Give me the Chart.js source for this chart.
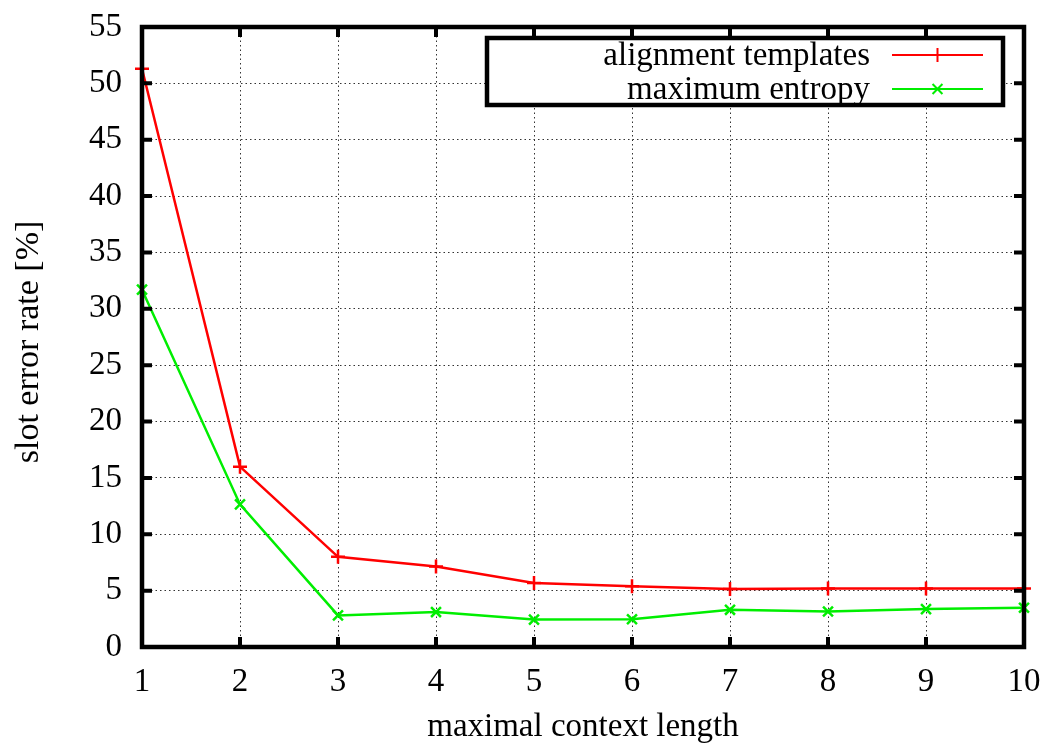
<!DOCTYPE html>
<html>
<head>
<meta charset="utf-8">
<script src="https://cdn.jsdelivr.net/npm/chart.js@4/dist/chart.umd.min.js"></script>
<style>
  html, body { margin: 0; padding: 0; background: #ffffff; }
  #wrap { width: 1046px; height: 747px; position: relative; }
</style>
</head>
<body>
<div id="wrap"><canvas id="c" width="1046" height="747"></canvas></div>
<script>
// ---- data ----
const contextLengths = [1, 2, 3, 4, 5, 6, 7, 8, 9, 10];
const alignmentTemplates = [51.3, 16.0, 8.0, 7.15, 5.68, 5.38, 5.15, 5.2, 5.2, 5.2];
const maximumEntropy = [31.7, 12.65, 2.8, 3.1, 2.43, 2.46, 3.3, 3.15, 3.36, 3.48];
const seriesLabels = ['alignment templates', 'maximum entropy'];
const yTicks = [0, 5, 10, 15, 20, 25, 30, 35, 40, 45, 50, 55];
const xTitle = 'maximal context length';
const yTitle = 'slot error rate [%]';

const FONT = '"Liberation Serif", "DejaVu Serif", serif';

function toPoints(xs, ys) { return xs.map((x, i) => ({ x: x, y: ys[i] })); }

const framePlugin = {
  id: 'frame',
  afterDatasetsDraw(chart) {
    const ctx = chart.ctx;
    const a = chart.chartArea;
    const xs = chart.scales.x, ys = chart.scales.y;
    ctx.save();
    ctx.strokeStyle = '#000';
    // inward ticks
    ctx.lineWidth = 4;
    ctx.lineCap = 'butt';
    const tl = 10;
    ys.ticks.forEach(t => {
      const py = ys.getPixelForValue(t.value);
      ctx.beginPath();
      ctx.moveTo(a.left, py); ctx.lineTo(a.left + tl, py);
      ctx.moveTo(a.right, py); ctx.lineTo(a.right - tl, py);
      ctx.stroke();
    });
    xs.ticks.forEach(t => {
      const px = xs.getPixelForValue(t.value);
      ctx.beginPath();
      ctx.moveTo(px, a.bottom); ctx.lineTo(px, a.bottom - tl);
      ctx.moveTo(px, a.top); ctx.lineTo(px, a.top + tl);
      ctx.stroke();
    });
    // border
    ctx.lineWidth = 4.5;
    ctx.strokeRect(a.left, a.top, a.right - a.left, a.bottom - a.top);

    // legend
    const bx = 487, by = 38, bw = 516, bh = 67;
    ctx.fillStyle = '#fff';
    ctx.fillRect(bx, by, bw, bh);
    ctx.lineWidth = 4.5;
    ctx.strokeRect(bx, by, bw, bh);
    ctx.font = '33px ' + FONT;
    ctx.textAlign = 'right';
    ctx.textBaseline = 'alphabetic';
    const rows = [55, 89];
    chart.data.datasets.forEach((ds, i) => {
      const ly = rows[i];
      ctx.fillStyle = '#000';
      ctx.fillText(ds.label, 870, ly + 10);
      ctx.strokeStyle = ds.borderColor;
      ctx.lineWidth = 2;
      ctx.beginPath();
      ctx.moveTo(892, ly); ctx.lineTo(983, ly);
      ctx.stroke();
      Chart.helpers.drawPoint(ctx, {
        pointStyle: ds.pointStyle, radius: ds.pointRadius, borderWidth: 2, rotation: 0
      }, 937.5, ly);
    });

    // y title
    ctx.fillStyle = '#000';
    ctx.font = '34px ' + FONT;
    ctx.translate(29, 342);
    ctx.rotate(-Math.PI / 2);
    ctx.textAlign = 'center';
    ctx.textBaseline = 'middle';
    ctx.fillText(yTitle, 0, 0);
    ctx.restore();
  }
};

new Chart(document.getElementById('c'), {
  type: 'line',
  data: {
    datasets: [
      {
        label: seriesLabels[0],
        data: toPoints(contextLengths, alignmentTemplates),
        borderColor: '#ff0000',
        backgroundColor: '#ff0000',
        borderWidth: 2.5,
        pointStyle: 'cross',
        pointRadius: 7,
        pointBorderWidth: 2.5,
        pointHoverRadius: 7,
        tension: 0,
        fill: false,
        clip: false
      },
      {
        label: seriesLabels[1],
        data: toPoints(contextLengths, maximumEntropy),
        borderColor: '#00ee00',
        backgroundColor: '#00ee00',
        borderWidth: 2.5,
        pointStyle: 'crossRot',
        pointRadius: 7,
        pointBorderWidth: 2.5,
        pointHoverRadius: 7,
        tension: 0,
        fill: false,
        clip: false
      }
    ]
  },
  options: {
    responsive: false,
    animation: false,
    devicePixelRatio: 1,
    layout: { padding: { top: 27, right: 22, left: 0, bottom: 0 } },
    plugins: {
      legend: { display: false },
      tooltip: { enabled: false },
      title: { display: false }
    },
    scales: {
      x: {
        type: 'linear',
        min: 1, max: 10,
        afterFit(s) { s.height = 100; s.paddingLeft = 0; s.paddingRight = 0; },
        afterBuildTicks(s) { s.ticks = contextLengths.map(v => ({ value: v })); },
        ticks: {
          color: '#000',
          font: { family: FONT, size: 33 },
          padding: 16,
          maxRotation: 0,
          autoSkip: false
        },
        grid: {
          display: true,
          color: '#333',
          lineWidth: 1,
          drawTicks: false
        },
        border: { display: false, dash: [1.5, 3] },
        title: {
          display: true,
          text: xTitle,
          color: '#000',
          font: { family: FONT, size: 33 },
          padding: 0
        }
      },
      y: {
        type: 'linear',
        min: 0, max: 55,
        afterFit(s) { s.width = 142; s.paddingTop = 0; s.paddingBottom = 0; },
        afterBuildTicks(s) { s.ticks = yTicks.map(v => ({ value: v })); },
        ticks: {
          color: '#000',
          font: { family: FONT, size: 33 },
          padding: 20,
          autoSkip: false
        },
        grid: {
          display: true,
          color: '#333',
          lineWidth: 1,
          drawTicks: false
        },
        border: { display: false, dash: [1.5, 3] }
      }
    }
  },
  plugins: [framePlugin]
});
</script>
</body>
</html>
